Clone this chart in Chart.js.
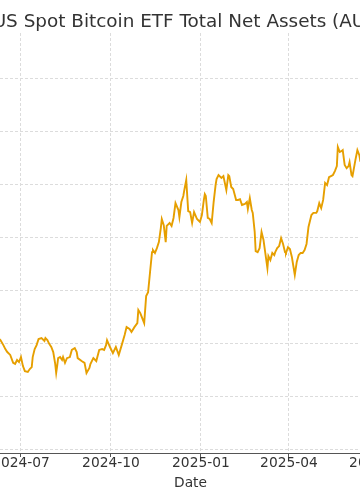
<!DOCTYPE html>
<html>
<head>
<meta charset="utf-8">
<script src="https://cdn.jsdelivr.net/npm/chart.js@4.4.1/dist/chart.umd.min.js"></script>
<style>
  html, body { margin: 0; padding: 0; background: #fff; overflow: hidden; }
  body { width: 360px; height: 504px; position: relative; }
  #wrap { position: absolute; left: -60px; top: 0; width: 501px; height: 504px; }
</style>
</head>
<body>
<div id="wrap"><canvas id="etfChart"></canvas></div>
<script>
// Daily total net assets of US spot bitcoin ETFs, billions USD
const dates = [
  '2024-06-03', '2024-06-06', '2024-06-10', '2024-06-13', '2024-06-15', '2024-06-17', '2024-06-20', '2024-06-23',
  '2024-06-25', '2024-06-27', '2024-06-29', '2024-07-01', '2024-07-03', '2024-07-05', '2024-07-08', '2024-07-10',
  '2024-07-12', '2024-07-13', '2024-07-15', '2024-07-17', '2024-07-19', '2024-07-22', '2024-07-25', '2024-07-26',
  '2024-07-28', '2024-07-30', '2024-08-01', '2024-08-03', '2024-08-05', '2024-08-06', '2024-08-07', '2024-08-08',
  '2024-08-10', '2024-08-12', '2024-08-13', '2024-08-15', '2024-08-17', '2024-08-20', '2024-08-22', '2024-08-25',
  '2024-08-27', '2024-08-28', '2024-09-01', '2024-09-04', '2024-09-06', '2024-09-09', '2024-09-10', '2024-09-13',
  '2024-09-16', '2024-09-19', '2024-09-22', '2024-09-24', '2024-09-26', '2024-09-27', '2024-09-30', '2024-10-03',
  '2024-10-06', '2024-10-09', '2024-10-12', '2024-10-15', '2024-10-17', '2024-10-20', '2024-10-22', '2024-10-25',
  '2024-10-28', '2024-10-29', '2024-10-31', '2024-11-02', '2024-11-04', '2024-11-06', '2024-11-08', '2024-11-10',
  '2024-11-12', '2024-11-13', '2024-11-15', '2024-11-17', '2024-11-19', '2024-11-21', '2024-11-22', '2024-11-24',
  '2024-11-26', '2024-11-27', '2024-11-30', '2024-12-02', '2024-12-04', '2024-12-06', '2024-12-09', '2024-12-10',
  '2024-12-12', '2024-12-14', '2024-12-15', '2024-12-17', '2024-12-19', '2024-12-21', '2024-12-23', '2024-12-25',
  '2024-12-28', '2024-12-31', '2025-01-02', '2025-01-04', '2025-01-05', '2025-01-06', '2025-01-08', '2025-01-10',
  '2025-01-12', '2025-01-14', '2025-01-16', '2025-01-17', '2025-01-19', '2025-01-22', '2025-01-24', '2025-01-27',
  '2025-01-29', '2025-01-30', '2025-02-01', '2025-02-03', '2025-02-06', '2025-02-08', '2025-02-10', '2025-02-12',
  '2025-02-15', '2025-02-17', '2025-02-18', '2025-02-20', '2025-02-22', '2025-02-23', '2025-02-25', '2025-02-26',
  '2025-02-28', '2025-03-02', '2025-03-04', '2025-03-06', '2025-03-07', '2025-03-10', '2025-03-11', '2025-03-13',
  '2025-03-15', '2025-03-17', '2025-03-18', '2025-03-20', '2025-03-22', '2025-03-24', '2025-03-26', '2025-03-28',
  '2025-03-29', '2025-03-31', '2025-04-02', '2025-04-04', '2025-04-05', '2025-04-07', '2025-04-09', '2025-04-11',
  '2025-04-13', '2025-04-15', '2025-04-17', '2025-04-19', '2025-04-21', '2025-04-24', '2025-04-26', '2025-04-29',
  '2025-04-30', '2025-05-02', '2025-05-04', '2025-05-06', '2025-05-08', '2025-05-10', '2025-05-12', '2025-05-14',
  '2025-05-16', '2025-05-18', '2025-05-20', '2025-05-21', '2025-05-23', '2025-05-25', '2025-05-26', '2025-05-28',
  '2025-05-30', '2025-06-01', '2025-06-02', '2025-06-04', '2025-06-05', '2025-06-08', '2025-06-10', '2025-06-12',
  '2025-06-13', '2025-06-16', '2025-06-20', '2025-06-25', '2025-06-30', '2025-07-03', '2025-07-10', '2025-07-14'
];

const netAssets = [
  63.5, 62.5, 61.1, 59.2, 57.7, 56.6, 55.5, 52.5,
  52.1, 53.6, 52.8, 54.7, 51.3, 49.4, 49.1, 50.2,
  50.9, 54.7, 57.7, 59.2, 61.5, 61.9, 60.8, 61.9,
  61.1, 59.6, 58.5, 56.6, 52.1, 48.7, 51.3, 54.3,
  54.7, 53.6, 54.7, 52.5, 54.3, 54.7, 57.4, 58.1,
  56.6, 54.3, 53.2, 52.5, 48.7, 50.6, 52.1, 54.3,
  53.2, 57.4, 57.7, 57.4, 59.2, 61.1, 58.5, 56.2,
  58.5, 55.5, 59.2, 63.0, 66.0, 65.3, 64.2, 66.0,
  67.5, 72.5, 71.3, 69.4, 67.5, 77.7, 79.2, 86.8,
  94.3, 95.1, 94.0, 95.8, 98.1, 103.4, 106.8, 104.5,
  98.1, 104.2, 105.3, 104.2, 107.2, 112.8, 110.2, 107.5,
  113.2, 115.5, 117.7, 121.5, 109.8, 109.4, 105.3, 109.4,
  106.8, 105.7, 108.3, 114.0, 116.2, 115.5, 107.2, 106.8,
  105.3, 113.2, 119.6, 121.9, 123.4, 122.3, 123.0, 117.7,
  123.4, 123.0, 118.9, 118.1, 114.0, 114.0, 114.3, 112.1,
  112.5, 113.2, 110.6, 114.7, 110.2, 109.1, 101.9, 94.7,
  94.3, 95.8, 101.9, 98.9, 96.2, 88.3, 92.8, 91.3,
  94.0, 93.2, 94.3, 95.8, 96.6, 99.6, 97.4, 94.3,
  94.0, 96.2, 95.5, 92.5, 90.2, 85.7, 90.6, 93.2,
  94.0, 94.0, 95.1, 97.4, 103.8, 108.3, 109.1, 109.1,
  109.8, 112.8, 110.9, 114.0, 120.4, 119.6, 122.6, 123.0,
  123.4, 124.9, 126.8, 134.0, 132.1, 132.5, 132.8, 127.2,
  126.0, 126.8, 128.3, 123.4, 123.0, 129.1, 132.8, 130.9,
  128.7, 127.5, 129.8, 131.0, 133.0, 137.0, 150.0, 152.0
];

// tick positions
const quarterTicks = ['2024-04-01', '2024-07-01', '2024-10-01', '2025-01-01', '2025-04-01', '2025-07-01', '2025-10-01'];
const valueTicks = [20, 40, 60, 80, 100, 120, 140, 160];

function toDay(s) {
    const [y, m, d] = s.split('-').map(Number);
    return Date.UTC(y, m - 1, d) / 86400000;
}

function monthLabel(day) {
    const dt = new Date(Math.round(day) * 86400000);
    return dt.getUTCFullYear() + '-' + String(dt.getUTCMonth() + 1).padStart(2, '0');
}

const points = dates.map((d, i) => ({ x: toDay(d), y: netAssets[i] }));

const xMin = toDay('2024-07-01') - 82.8;
const xMax = xMin + 512.3;

const gridColor = '#dcdcdc';
const textColor = '#333333';

const ctx = document.getElementById('etfChart');

new Chart(ctx, {
    type: 'line',
    data: {
        datasets: [{
            label: 'Total Net Assets',
            data: points,
            borderColor: '#E69F00',
            borderWidth: 1.9,
            pointRadius: 0,
            tension: 0,
            fill: false
        }]
    },
    options: {
        responsive: true,
        maintainAspectRatio: false,
        animation: false,
        layout: { padding: { left: 0, right: 0, top: 0, bottom: 12.7 } },
        plugins: {
            legend: { display: false },
            tooltip: { enabled: false },
            title: {
                display: true,
                text: 'US Spot Bitcoin ETF Total Net Assets (AUM)',
                color: textColor,
                font: { family: 'DejaVu Sans', size: 18.4, weight: 'normal', lineHeight: 1.2 },
                padding: { top: 10.8, bottom: 0.12 }
            }
        },
        scales: {
            x: {
                type: 'linear',
                min: xMin,
                max: xMax,
                afterBuildTicks: axis => {
                    axis.ticks = quarterTicks.map(toDay)
                        .filter(v => v >= axis.min && v <= axis.max)
                        .map(v => ({ value: v }));
                },
                grid: {
                    color: gridColor,
                    lineWidth: 1,
                    drawTicks: true,
                    tickLength: 4,
                    tickColor: '#555555',
                    tickWidth: 1,
                    tickBorderDash: []
                },
                border: { display: true, color: '#555555', width: 1, dash: [3, 2] },
                ticks: {
                    color: textColor,
                    padding: 0,
                    maxRotation: 0,
                    autoSkip: false,
                    font: { family: 'DejaVu Sans', size: 13.8, lineHeight: 0.9 },
                    callback: v => monthLabel(v)
                },
                title: {
                    display: true,
                    text: 'Date',
                    color: textColor,
                    font: { family: 'DejaVu Sans', size: 13.8, lineHeight: 1.2 },
                    padding: { top: 5.3, bottom: 0 }
                }
            },
            y: {
                type: 'linear',
                min: 18.49,
                max: 177.0,
                afterBuildTicks: axis => {
                    axis.ticks = valueTicks.map(v => ({ value: v }));
                },
                grid: {
                    color: gridColor,
                    lineWidth: 1,
                    drawTicks: false,
                    tickLength: 0
                },
                border: { display: false, dash: [3, 2] },
                ticks: { display: false }
            }
        }
    }
});
</script>
</body>
</html>
